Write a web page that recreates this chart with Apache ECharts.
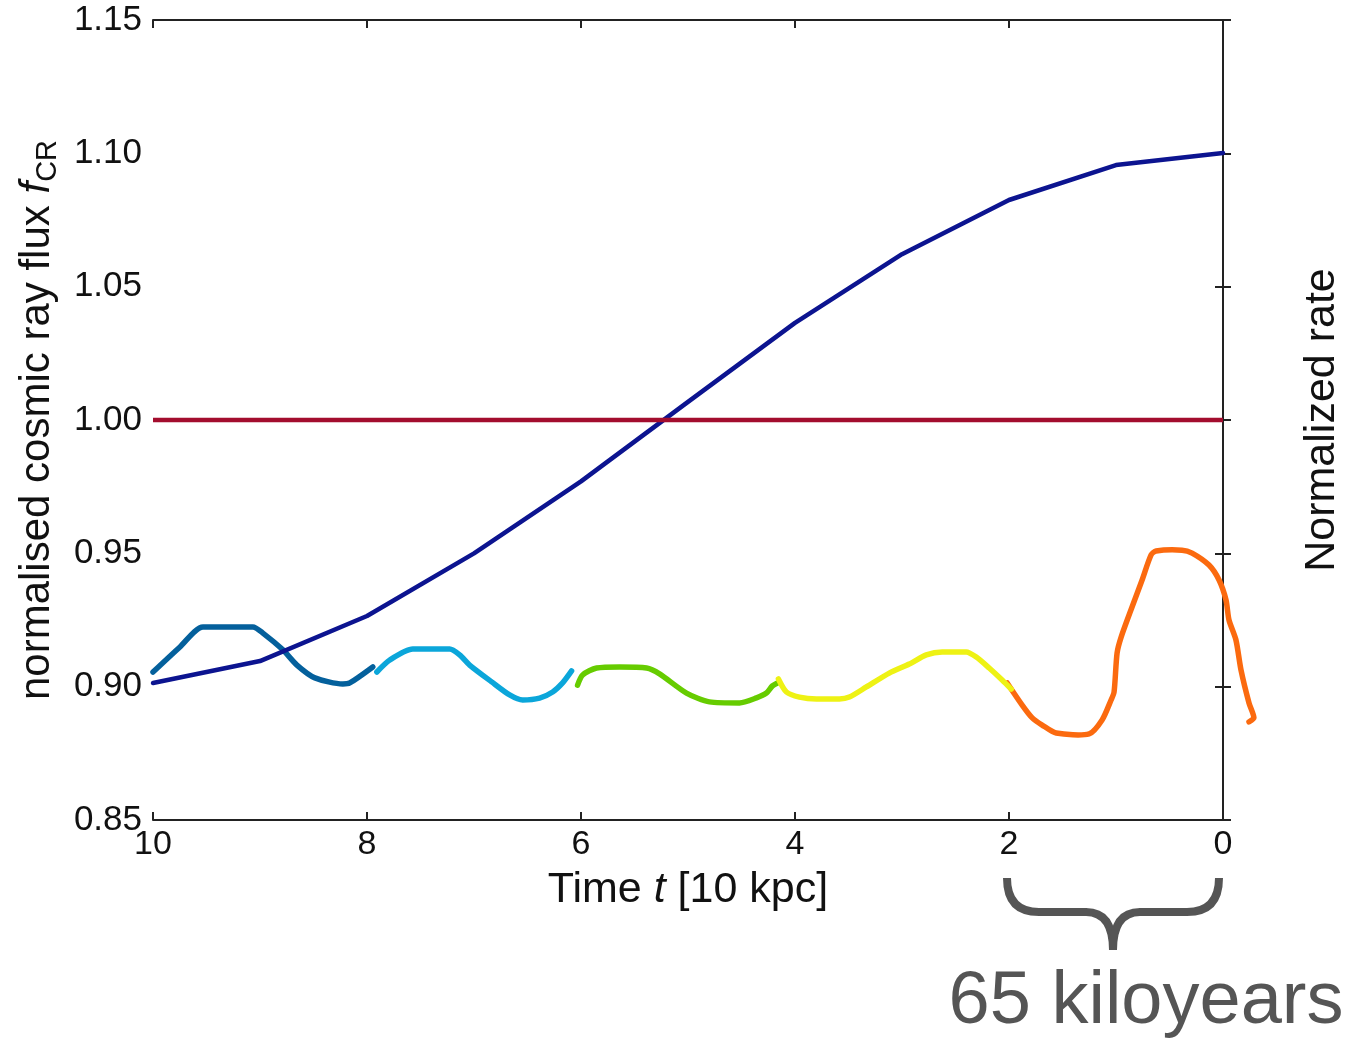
<!DOCTYPE html>
<html>
<head>
<meta charset="utf-8">
<script src="https://cdn.jsdelivr.net/npm/echarts@6/dist/echarts.min.js"></script>
<style>
html,body{margin:0;padding:0;background:#fff;}
#c{width:1352px;height:1039px;}
</style>
</head>
<body>
<div id="c"></div>
<script>
// ---- data ----
const xTicks = [10, 8, 6, 4, 2, 0];
const yTicks = [0.85, 0.90, 0.95, 1.00, 1.05, 1.10, 1.15];

const fluxT = [10, 9, 8, 7, 6, 5, 4, 3, 2, 1, 0];
const fluxF = [0.9014, 0.9096, 0.9265, 0.950, 0.977, 1.0068, 1.0364, 1.0622, 1.0825, 1.0956, 1.1001];

const refT = [10, 0];
const refF = [1.0, 1.0];

const seg1T = [10.0, 9.748, 9.533, 9.066, 8.973, 8.786, 8.655, 8.487, 8.226, 8.161, 7.946];
const seg1F = [0.9055, 0.9149, 0.9224, 0.9224, 0.9201, 0.9138, 0.9081, 0.9033, 0.9010, 0.9014, 0.9074];

const seg2T = [7.908, 7.787, 7.572, 7.227, 7.134, 7.041, 6.835, 6.667, 6.545, 6.387, 6.265, 6.172, 6.088];
const seg2F = [0.9055, 0.9100, 0.9141, 0.9141, 0.9119, 0.9081, 0.9018, 0.8969, 0.8950, 0.8957, 0.8980, 0.9014, 0.9059];

const seg3T = [6.032, 5.985, 5.854, 5.640, 5.387, 5.266, 5.014, 4.799, 4.519, 4.360, 4.267, 4.211, 4.164];
const seg3F = [0.9006, 0.9044, 0.9070, 0.9074, 0.9070, 0.9048, 0.8976, 0.8943, 0.8939, 0.8958, 0.8976, 0.9003, 0.9014];

const seg4T = [4.155, 4.080, 3.959, 3.800, 3.585, 3.492, 3.333, 3.119, 2.932, 2.773, 2.624, 2.400, 2.306, 2.185, 2.064, 1.979];
const seg4F = [0.9029, 0.8980, 0.8961, 0.8954, 0.8954, 0.8961, 0.8999, 0.9051, 0.9085, 0.9119, 0.9130, 0.9130, 0.9111, 0.9070, 0.9025, 0.8991];

const seg5T = [2.017, 1.877, 1.783, 1.690, 1.559, 1.251, 1.130, 1.046, 1.018, 0.990, 0.952, 0.850, 0.756, 0.672, 0.626, 0.383, 0.289, 0.131, 0.037, -0.028, -0.056, -0.121, -0.168, -0.243, -0.289, -0.243];
const seg5F = [0.9014, 0.8931, 0.8883, 0.8856, 0.8826, 0.8823, 0.8875, 0.8950, 0.8980, 0.9126, 0.9186, 0.9299, 0.9400, 0.9494, 0.9509, 0.9512, 0.9501, 0.9456, 0.9400, 0.9325, 0.9250, 0.9175, 0.9063, 0.8939, 0.8883, 0.8868];

const y2Title = 'Normalized rate';
const braceLabel = '65 kiloyears';

// ---- build ----
const zip = (a, b) => a.map((v, i) => [v, b[i]]);
const FONT = '"Liberation Sans", Arial, Helvetica, sans-serif';

const chart = echarts.init(document.getElementById('c'), null, {renderer: 'canvas'});

const axisLine = {show: true, lineStyle: {color: '#222', width: 2}};
const tickIn = {show: true, inside: true, length: 8, lineStyle: {color: '#222', width: 2}};

function seg(T, F, color, z) {
  return {
    type: 'line', data: zip(T, F), showSymbol: false, symbol: 'none',
    smooth: 0.25, z: z, silent: true,
    lineStyle: {color: color, width: 5.5, cap: 'round', join: 'round'}
  };
}

// orange segment runs past the right axis, so it is drawn as an unclipped custom series
function overflowSeg(T, F, color, z) {
  return {
    type: 'custom', clip: false, z: z, silent: true,
    data: [[T[0], F[0]]],
    encode: {x: 0, y: 1},
    renderItem: function (params, api) {
      const pts = T.map((t, i) => api.coord([t, F[i]]));
      return {
        type: 'polyline',
        shape: {points: pts, smooth: 0.25},
        style: {fill: null, stroke: color, lineWidth: 5.5, lineCap: 'round', lineJoin: 'round'}
      };
    }
  };
}

const option = {
  animation: false,
  backgroundColor: '#ffffff',
  grid: {left: 153, right: 128, top: 20, bottom: 219, show: false},
  xAxis: [{
    type: 'value', min: 0, max: 10, interval: 2, inverse: true, position: 'bottom',
    axisLine: axisLine, axisTick: tickIn, splitLine: {show: false},
    axisLabel: {fontSize: 34, color: '#111', fontFamily: FONT, margin: 8,
      showMinLabel: true, showMaxLabel: true,
      formatter: v => (xTicks.indexOf(v) >= 0 ? String(v) : '')},
    name: '{n|Time }{i|t}{n| [10 kpc]}', nameLocation: 'middle', nameGap: 49,
    nameTextStyle: {rich: {
      n: {fontSize: 43, color: '#111', fontFamily: FONT},
      i: {fontSize: 43, color: '#111', fontFamily: FONT, fontStyle: 'italic'}
    }}
  }, {
    type: 'value', min: 0, max: 10, interval: 2, inverse: true, position: 'top',
    axisLine: axisLine, axisTick: tickIn, splitLine: {show: false},
    axisLabel: {show: false}
  }],
  yAxis: [{
    type: 'value', min: 0.85, max: 1.15, interval: 0.05, position: 'left',
    axisLine: axisLine, axisTick: tickIn, splitLine: {show: false},
    axisLabel: {fontSize: 35, color: '#111', fontFamily: FONT, margin: 11,
      showMinLabel: true, showMaxLabel: true,
      formatter: v => (yTicks.some(y => Math.abs(y - v) < 1e-9) ? v.toFixed(2) : '')},
    name: '{n|normalised cosmic ray flux }{i|f}{s|CR}', nameLocation: 'middle', nameGap: 90,
    nameRotate: 90,
    nameTextStyle: {rich: {
      n: {fontSize: 42, color: '#111', fontFamily: FONT, lineHeight: 52, verticalAlign: 'middle'},
      i: {fontSize: 42, color: '#111', fontFamily: FONT, fontStyle: 'italic', lineHeight: 52, verticalAlign: 'middle'},
      s: {fontSize: 29, color: '#111', fontFamily: FONT, lineHeight: 29, verticalAlign: 'bottom'}
    }}
  }, {
    type: 'value', min: 0.85, max: 1.15, interval: 0.05, position: 'right',
    axisLine: axisLine, axisTick: tickIn, splitLine: {show: false},
    axisLabel: {show: false},
    name: y2Title, nameLocation: 'middle', nameGap: 78, nameRotate: 90,
    nameTextStyle: {fontSize: 43, color: '#111', fontFamily: FONT, verticalAlign: 'top'}
  }],
  series: [
    overflowSeg(seg5T, seg5F, '#fb6a0f', 2),
    seg(seg1T, seg1F, '#04609c', 3),
    seg(seg2T, seg2F, '#0ba6da', 3),
    seg(seg3T, seg3F, '#66cc00', 3),
    seg(seg4T, seg4F, '#eef214', 4),
    {type: 'line', data: zip(fluxT, fluxF), showSymbol: false, symbol: 'none', z: 5, silent: true,
     lineStyle: {color: '#0c1490', width: 4.5, cap: 'round', join: 'round'}},
    {type: 'line', data: zip(refT, refF), showSymbol: false, symbol: 'none', z: 6, silent: true,
     lineStyle: {color: '#a30d2e', width: 4.5}}
  ]
};
chart.setOption(option);

// ---- brace annotation under the last 2 units of time ----
const pL = chart.convertToPixel({xAxisIndex: 0, yAxisIndex: 0}, [2, 0.85]);
const pR = chart.convertToPixel({xAxisIndex: 0, yAxisIndex: 0}, [0, 0.85]);
const L = pL[0] - 2, R = pR[0] - 4;
const y0 = pL[1] + 58, y1 = pL[1] + 92, y2 = pL[1] + 130;
const cx = (L + R) / 2;
const braceStyle = {fill: null, stroke: '#555555', lineWidth: 8, lineCap: 'butt'};
function bez(x1, yA, cpx, cpy, x2, yB) {
  return {type: 'bezierCurve', silent: true, shape: {x1: x1, y1: yA, x2: x2, y2: yB, cpx1: cpx, cpy1: cpy}, style: braceStyle};
}
function seg2d(x1, yA, x2, yB) {
  return {type: 'line', silent: true, shape: {x1: x1, y1: yA, x2: x2, y2: yB}, style: braceStyle};
}
chart.setOption({
  graphic: [
    bez(L, y0, L, y1, L + 32, y1),
    seg2d(L + 31, y1, cx - 26, y1),
    bez(cx - 27, y1, cx, y1, cx, y2),
    bez(R, y0, R, y1, R - 32, y1),
    seg2d(R - 31, y1, cx + 26, y1),
    bez(cx + 27, y1, cx, y1, cx, y2),
    {type: 'text', x: cx + 33, y: pL[1] + 183, silent: true,
     style: {text: braceLabel, fontSize: 74, fontFamily: FONT, fill: '#555555', align: 'center', verticalAlign: 'middle'}}
  ]
});
</script>
</body>
</html>
